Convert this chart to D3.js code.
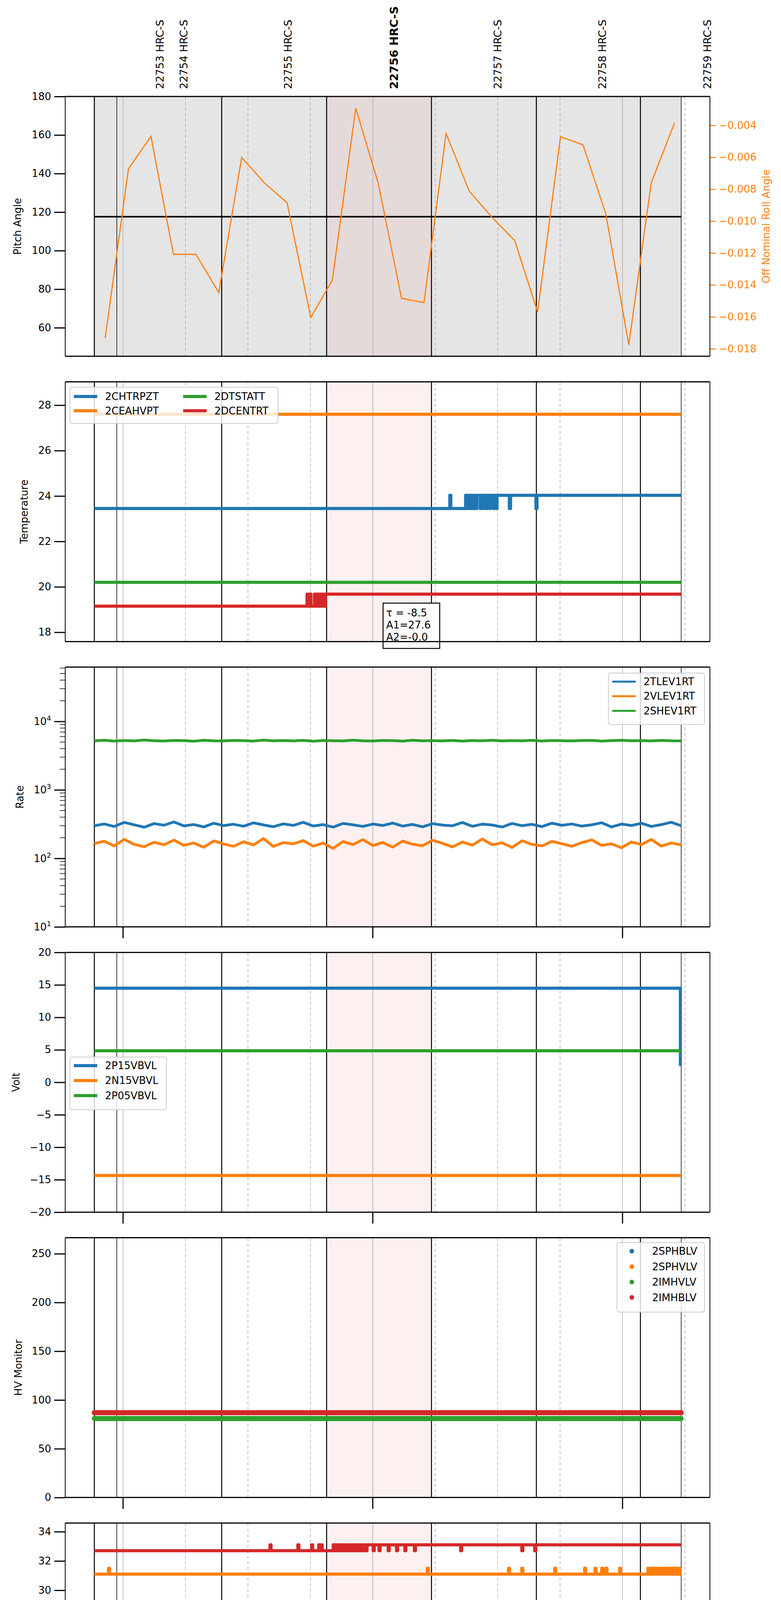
<!DOCTYPE html>
<meta charset="utf-8">
<style>
body { margin: 0; background: #fff; }
text { font-family: "DejaVu Sans", sans-serif; }
</style>
<svg width="2000" height="5400"></svg>
<script src="https://d3js.org/d3.v7.min.js"></script>
<script>

// time helper: "HH:MM.m" on 2020-11-02
function tm(s) {
  var p = s.split(":");
  return new Date(2020, 10, 2, +p[0], 0, 0, Math.round(+p[1] * 60000));
}

// ---- data ----
var obsBounds = ["10:53.1", "10:58.5", "11:23.7", "11:48.9", "12:14.1", "12:39.3", "13:04.3", "13:14.1"];
var obsLabels = ["22753 HRC-S", "22754 HRC-S", "22755 HRC-S", "22756 HRC-S", "22757 HRC-S", "22758 HRC-S", "22759 HRC-S"];
var obsLabelTimes = ["11:08.9", "11:14.6", "11:39.6", "12:05.1", "12:30.0", "12:55.2", "13:20.4"];
var currentObs = "22756 HRC-S";
var highlight = ["11:48.9", "12:14.1"];

var pitchTimes = ["10:53.1", "13:14.1"];
var pitchValues = [117.6, 117.6];

var rollTimes = ["10:55.7", "11:01.3", "11:06.7", "11:12.1", "11:17.5", "11:23.0", "11:28.5", "11:34.0", "11:39.4",
  "11:45.1", "11:50.3", "11:55.9", "12:01.3", "12:06.9", "12:12.3", "12:17.6", "12:23.2", "12:28.7", "12:34.1",
  "12:39.6", "12:45.1", "12:50.5", "12:56.0", "13:01.5", "13:06.9", "13:12.5"];
var rollValues = [-0.01734, -0.00672, -0.00469, -0.01208, -0.01208, -0.01448, -0.00601, -0.00762, -0.00885,
  -0.01604, -0.01369, -0.00292, -0.00762, -0.01484, -0.01511, -0.00451, -0.00813, -0.00978, -0.01122,
  -0.0157, -0.00471, -0.00522, -0.00956, -0.01776, -0.0076, -0.00385];

// step series: [time, value] change points; spikes: [time, value] short excursions
var dataStart = "10:53.1", dataEnd = "13:14.1";

var chtrpztSteps = [["10:53.1", 23.45], ["12:25.0", 24.03], ["12:32.8", 23.45], ["12:33.1", 24.03]];
var chtrpztSpikes = [["12:18.5", 24.03], ["12:22.3", 24.03], ["12:22.9", 24.03], ["12:23.6", 24.03], ["12:24.3", 24.03],
  ["12:25.8", 23.45], ["12:26.5", 23.45], ["12:27.3", 23.45], ["12:28.1", 23.45], ["12:29.0", 23.45], ["12:29.6", 23.45], ["12:39.2", 23.45]];
var ceahvptSteps = [["10:53.1", 27.6]];
var dtstattSteps = [["10:53.1", 20.2]];
var dcentrtSteps = [["10:53.1", 19.15], ["11:48.6", 19.68]];
var dcentrtSpikes = [["11:44.2", 19.68], ["11:44.9", 19.68], ["11:46.0", 19.68], ["11:46.7", 19.68], ["11:47.4", 19.68], ["11:48.0", 19.68]];

var rateStart = "10:53.1", rateEnd = "13:14.1";
var tlev1rt = [300, 318, 292, 335, 310, 285, 322, 305, 340, 298, 312, 288, 326, 301, 315, 295, 330, 308, 290, 319,
  303, 336, 297, 311, 286, 324, 309, 293, 317, 302, 328, 296, 313, 289, 321, 306, 299, 334, 294, 316,
  307, 287, 323, 300, 314, 291, 327, 304, 318, 296, 309, 331, 288, 317, 302, 325, 293, 311, 337, 299];
var vlev1rt = [165, 178, 152, 190, 160, 148, 172, 158, 185, 155, 168, 145, 180, 162, 150, 175, 157, 195, 149, 170,
  163, 182, 151, 167, 140, 176, 159, 188, 154, 171, 146, 179, 161, 153, 184, 166, 147, 173, 156, 192,
  158, 169, 144, 181, 160, 152, 177, 164, 150, 170, 186, 155, 163, 143, 174, 159, 189, 151, 168, 157];
var shev1rt = [5200, 5310, 5150, 5260, 5190, 5350, 5220, 5170, 5280, 5240, 5130, 5300, 5210, 5180, 5270, 5230, 5160, 5320, 5200, 5250,
  5190, 5290, 5140, 5260, 5220, 5180, 5330, 5210, 5170, 5280, 5240, 5150, 5300, 5200, 5230, 5190, 5270, 5160, 5250, 5210,
  5310, 5180, 5240, 5200, 5290, 5170, 5260, 5220, 5190, 5250, 5280, 5160, 5230, 5300, 5200, 5240, 5180, 5270, 5210, 5190];

var p15Steps = [["10:53.1", 14.5], ["13:13.9", 2.7]];
var n15Steps = [["10:53.1", -14.35]];
var p05Steps = [["10:53.1", 4.85]];

var sphblvSteps = [["10:53.1", 87]];
var sphvlvSteps = [["10:53.1", 87]];
var imhvlvSteps = [["10:53.1", 81]];
var imhblvSteps = [["10:53.1", 87]];

var spinatmSteps = [["10:53.1", 18.3]];
var spinatmSpikes = [["12:28.5", 18.9], ["13:13.0", 18.9]];
var sphvatmSteps = [["10:53.1", 31.1]];
var sphvatmSpikes = [["10:56.5", 31.5], ["12:13.1", 31.5], ["12:32.6", 31.5], ["12:35.8", 31.5], ["12:43.7", 31.5],
  ["12:50.9", 31.5], ["12:53.4", 31.5], ["12:55.0", 31.5], ["12:56.0", 31.5], ["12:59.3", 31.5],
  ["13:06.1", 31.5], ["13:06.6", 31.5], ["13:07.2", 31.5], ["13:08.0", 31.5], ["13:08.9", 31.5], ["13:09.5", 31.5],
  ["13:10.2", 31.5], ["13:10.9", 31.5], ["13:11.5", 31.5], ["13:12.2", 31.5], ["13:12.9", 31.5], ["13:13.5", 31.5]];
var iminatmSteps = [["10:53.1", 20.3]];
var iminatmSpikes = [["12:21.3", 19.6]];
var imhvatmSteps = [["10:53.1", 32.7], ["11:58.6", 33.1]];
var imhvatmSpikes = [["11:35.3", 33.1], ["11:42.0", 33.1], ["11:45.3", 33.1], ["11:47.0", 33.1], ["11:47.6", 33.1],
  ["11:50.5", 33.1], ["11:51.0", 33.1], ["11:51.5", 33.1], ["11:52.1", 33.1], ["11:52.7", 33.1], ["11:53.3", 33.1],
  ["11:53.9", 33.1], ["11:54.5", 33.1], ["11:55.1", 33.1], ["11:55.7", 33.1], ["11:56.3", 33.1], ["11:56.9", 33.1],
  ["11:57.5", 33.1], ["11:58.1", 33.1],
  ["12:00.1", 32.7], ["12:01.5", 32.7], ["12:03.7", 32.7], ["12:05.7", 32.7], ["12:07.7", 32.7], ["12:10.0", 32.7],
  ["12:21.1", 32.7], ["12:35.8", 32.7], ["12:38.9", 32.7]];

var fhtrmztSteps = [["10:53.1", 22.88]];
var fradpytSteps = [["10:53.1", 18.62], ["11:27.0", 18.12]];
var fradpytSpikes = [["11:18.0", 18.12], ["11:21.8", 18.12], ["11:25.5", 18.12], ["11:26.3", 18.62], ["11:31.9", 18.62]];
var fepratmSteps = [["10:53.1", 24.62]];
var fe00atmSteps = [["10:53.1", 22.95], ["10:57.4", 22.65], ["10:57.6", 22.95], ["11:15.0", 22.65]];
var fe00atmSpikes = [["10:53.6", 22.65], ["10:58.3", 22.65], ["10:59.4", 22.65], ["11:00.5", 22.65], ["11:01.6", 22.65],
  ["11:02.7", 22.65], ["11:03.8", 22.65], ["11:04.9", 22.65], ["11:06.0", 22.65], ["11:07.1", 22.65], ["11:08.2", 22.65],
  ["11:09.3", 22.65], ["11:10.2", 22.65], ["11:11.0", 22.65], ["11:11.8", 22.65], ["11:12.6", 22.65], ["11:13.4", 22.65],
  ["11:14.2", 22.65],
  ["11:17.1", 23.65], ["11:20.4", 22.3], ["11:25.8", 23.35], ["11:32.9", 23.0], ["11:42.3", 22.3], ["11:43.1", 23.0],
  ["11:49.2", 23.0], ["11:50.2", 22.3], ["11:55.4", 23.65], ["11:55.9", 23.35], ["12:00.6", 22.0], ["12:08.9", 23.65],
  ["12:13.3", 21.7], ["12:17.4", 23.35], ["12:18.9", 23.0], ["12:23.3", 21.7], ["12:46.9", 23.0], ["12:59.7", 22.3],
  ["13:03.4", 21.7], ["13:06.3", 21.7], ["13:13.7", 22.3]];

var tau = "τ = -8.5", a1 = "A1=27.6", a2 = "A2=-0.0";

// ---- helpers ----
function build(steps, spikes, end) {
  var pts = steps.map(function(d) { return [tm(d[0]), d[1]]; });
  function baseAt(t) {
    var v = pts[0][1];
    steps.forEach(function(s) { if (tm(s[0]) <= t) v = s[1]; });
    return v;
  }
  (spikes || []).forEach(function(s) {
    var t = tm(s[0]), b = baseAt(t);
    pts.push([t, s[1]]);
    pts.push([new Date(+t + 15000), b]);
  });
  pts.sort(function(a, b) { return a[0] - b[0]; });
  pts.push([tm(end || dataEnd), pts[pts.length - 1][1]]);
  return pts;
}
function even(vals) {
  var t0 = +tm(rateStart), t1 = +tm(rateEnd);
  return vals.map(function(v, i) { return [new Date(t0 + (t1 - t0) * i / (vals.length - 1)), v]; });
}

var C = ["#1f77b4", "#ff7f0e", "#2ca02c", "#d62728"];
var svg = d3.select("svg");
var L = 167, R = 1818, H = 665;
var x = d3.scaleTime().domain([tm("10:46.1"), tm("13:21.0")]).range([L, R]);

var panels = [
  { label: "Pitch Angle", lx: 45, domain: [45.2, 180], ticks: d3.range(60, 181, 20), series: [] },
  { label: "Temperature", lx: 62, domain: [17.59, 29.03], ticks: d3.range(18, 29, 2), lw: 8,
    legend: { x: 179, y: 991, w: 533, h: 93, cols: 2 },
    series: [
      { name: "2CHTRPZT", d: build(chtrpztSteps, chtrpztSpikes) },
      { name: "2CEAHVPT", d: build(ceahvptSteps) },
      { name: "2DTSTATT", d: build(dtstattSteps) },
      { name: "2DCENTRT", d: build(dcentrtSteps, dcentrtSpikes) }] },
  { label: "Rate", lx: 51, domain: [10, 62000], log: true, lw: 7, linear: true,
    legend: { x: 1558, y: 1723, w: 246, h: 132 },
    series: [
      { name: "2TLEV1RT", d: even(tlev1rt) },
      { name: "2VLEV1RT", d: even(vlev1rt) },
      { name: "2SHEV1RT", d: even(shev1rt) }] },
  { label: "Volt", lx: 41, domain: [-20, 20], ticks: d3.range(-20, 21, 5), lw: 8,
    legend: { x: 179, y: 2706, w: 247, h: 135 },
    series: [
      { name: "2P15VBVL", d: build(p15Steps) },
      { name: "2N15VBVL", d: build(n15Steps) },
      { name: "2P05VBVL", d: build(p05Steps) }] },
  { label: "HV Monitor", lx: 47, domain: [0, 266.4], ticks: d3.range(0, 251, 50), lw: 13, dots: true,
    legend: { x: 1580, y: 3181, w: 224, h: 178 },
    series: [
      { name: "2SPHBLV", d: build(sphblvSteps) },
      { name: "2SPHVLV", d: build(sphvlvSteps) },
      { name: "2IMHVLV", d: build(imhvlvSteps) },
      { name: "2IMHBLV", d: build(imhblvSteps) }] },
  { label: "Detector Temp", lx: 64, domain: [16.85, 34.59], ticks: d3.range(18, 35, 2), lw: 8,
    legend: { x: 1555, y: 4147, w: 249, h: 176 },
    series: [
      { name: "2SPINATM", d: build(spinatmSteps, spinatmSpikes) },
      { name: "2SPHVATM", d: build(sphvatmSteps, sphvatmSpikes) },
      { name: "2IMINATM", d: build(iminatmSteps, iminatmSpikes) },
      { name: "2IMHVATM", d: build(imhvatmSteps, imhvatmSpikes) }] },
  { label: "FEA Temp", lx: 62, domain: [16.65, 26.11], ticks: d3.range(18, 27, 2), lw: 8,
    legend: { x: 179, y: 4873, w: 253, h: 178 },
    series: [
      { name: "2FHTRMZT", d: build(fhtrmztSteps) },
      { name: "2FRADPYT", d: build(fradpytSteps, fradpytSpikes) },
      { name: "2FEPRATM", d: build(fepratmSteps) },
      { name: "2FE00ATM", d: build(fe00atmSteps, fe00atmSpikes) }] }
];

var hours = ["11:00", "12:00", "13:00"].map(tm);
var quarters = ["11:15", "11:30", "11:45", "12:15", "12:30", "12:45", "13:15"].map(tm);

panels.forEach(function(p, i) {
  var top = 247 + i * 730.4, bot = top + H;
  var y = (p.log ? d3.scaleLog() : d3.scaleLinear()).domain(p.domain).range([bot, top]);
  var g = svg.append("g");

  if (i === 0) {
    g.append("rect").attr("x", x(tm(obsBounds[0]))).attr("y", top)
      .attr("width", x(tm(obsBounds[obsBounds.length - 1])) - x(tm(obsBounds[0]))).attr("height", H)
      .attr("fill", "#e5e5e5");
  }
  g.append("rect").attr("x", x(tm(highlight[0]))).attr("y", top)
    .attr("width", x(tm(highlight[1])) - x(tm(highlight[0]))).attr("height", H)
    .attr("fill", i === 0 ? "#e5dada" : "#fdf0f0");

  // grid lines
  g.selectAll(".hr").data(hours).enter().append("line")
    .attr("x1", x).attr("x2", x).attr("y1", top).attr("y2", bot)
    .attr("stroke", "#aaa").attr("stroke-width", 1.5);
  g.selectAll(".qr").data(quarters).enter().append("line")
    .attr("x1", x).attr("x2", x).attr("y1", top).attr("y2", bot)
    .attr("stroke", "#aaa").attr("stroke-width", 1.5).attr("stroke-dasharray", "8,6");
  g.selectAll(".ob").data(obsBounds).enter().append("line")
    .attr("x1", function(d) { return x(tm(d)); }).attr("x2", function(d) { return x(tm(d)); })
    .attr("y1", top).attr("y2", bot)
    .attr("stroke", "#000").attr("stroke-width", function(d, j) { return (j === 1 || j === 7) ? 1.5 : 2.5; });

  var line = d3.line().x(function(d) { return x(d[0]); }).y(function(d) { return y(d[1]); })
    .curve(p.linear ? d3.curveLinear : d3.curveStepAfter);

  p.series.forEach(function(s, k) {
    g.append("path").datum(s.d).attr("d", line).attr("fill", "none")
      .attr("stroke", C[k]).attr("stroke-width", p.lw)
      .attr("stroke-linecap", p.dots ? "round" : "butt").attr("stroke-linejoin", "round");
  });

  if (i === 0) {
    var pitch = pitchTimes.map(function(t, k) { return [tm(t), pitchValues[k]]; });
    g.append("path").datum(pitch).attr("d", d3.line().x(function(d) { return x(d[0]); }).y(function(d) { return y(d[1]); }))
      .attr("stroke", "#000").attr("stroke-width", 4).attr("fill", "none");
    var y2 = d3.scaleLinear().domain([-0.01847, -0.00219]).range([bot, top]);
    var roll = rollTimes.map(function(t, k) { return [tm(t), rollValues[k]]; });
    g.append("path").datum(roll).attr("d", d3.line().x(function(d) { return x(d[0]); }).y(function(d) { return y2(d[1]); }))
      .attr("stroke", C[1]).attr("stroke-width", 3).attr("fill", "none");
    var ra = g.append("g").attr("transform", "translate(" + R + ",0)")
      .call(d3.axisRight(y2).tickValues(d3.range(-0.018, -0.0039, 0.002)).tickFormat(d3.format(".3f")).tickSize(15).tickPadding(8));
    ra.select(".domain").remove();
    ra.selectAll("line").attr("stroke", C[1]).attr("stroke-width", 2.5);
    ra.selectAll("text").attr("fill", C[1]).style("font-size", "26px");
    g.append("text").attr("transform", "translate(1962," + (top + H / 2) + ") rotate(-90)")
      .attr("text-anchor", "middle").attr("dy", "0.35em").attr("fill", C[1]).style("font-size", "26px")
      .text("Off Nominal Roll Angle");

    obsLabels.forEach(function(o, k) {
      var cur = o === currentObs;
      g.append("text").attr("transform", "translate(" + x(tm(obsLabelTimes[k])) + ",228) rotate(-90)")
        .attr("dy", "0.35em").style("font-size", cur ? "29px" : "27px").style("font-weight", cur ? "bold" : "normal")
        .text(o);
    });
  }

  if (i === 1) {
    var bx = 981, by = 1544;
    g.append("rect").attr("x", bx).attr("y", by).attr("width", 145).attr("height", 116)
      .attr("fill", "#fff").attr("stroke", "#000").attr("stroke-width", 2.5);
    [tau, a1, a2].forEach(function(t, k) {
      g.append("text").attr("x", bx + 8).attr("y", by + 25 + k * 31).attr("dy", "0.35em")
        .style("font-size", "26px").text(t);
    });
  }

  // y axis
  var ya;
  if (p.log) {
    ya = d3.axisLeft(y).tickValues([10, 100, 1000, 10000]).tickFormat("").tickSize(28);
  } else {
    ya = d3.axisLeft(y).tickValues(p.ticks).tickSize(28).tickPadding(8);
  }
  var yg = g.append("g").attr("transform", "translate(" + L + ",0)").call(ya);
  yg.select(".domain").remove();
  yg.selectAll("line").attr("stroke-width", 3);
  yg.selectAll("text").style("font-size", "26px");
  if (p.log) {
    var minors = [];
    [10, 100, 1000, 10000].forEach(function(b) { d3.range(2, 10).forEach(function(m) { if (b * m < 62000) minors.push(b * m); }); });
    yg.selectAll(".mn").data(minors).enter().append("line")
      .attr("x1", -14).attr("x2", 0).attr("y1", y).attr("y2", y).attr("stroke", "#000").attr("stroke-width", 1.5);
    [1, 2, 3, 4].forEach(function(e) {
      var t = yg.append("text").attr("x", -36).attr("y", y(Math.pow(10, e))).attr("dy", "0.35em")
        .attr("fill", "#000").attr("text-anchor", "end").style("font-size", "26px");
      t.append("tspan").text("10");
      t.append("tspan").attr("dy", "-0.6em").style("font-size", "18px").text(e);
    });
  }
  g.append("text").attr("transform", "translate(" + p.lx + "," + (top + H / 2) + ") rotate(-90)")
    .attr("text-anchor", "middle").attr("dy", "0.35em").style("font-size", "26px").text(p.label);

  // x ticks
  if (i >= 2) {
    g.selectAll(".ht").data(hours).enter().append("line")
      .attr("x1", x).attr("x2", x).attr("y1", bot).attr("y2", bot + 29)
      .attr("stroke", "#000").attr("stroke-width", 3);
  }
  if (i === 6) {
    g.selectAll(".qt").data(quarters).enter().append("line")
      .attr("x1", x).attr("x2", x).attr("y1", bot).attr("y2", bot + 7)
      .attr("stroke", "#000").attr("stroke-width", 1.5);
    g.selectAll(".ql").data(quarters).enter().append("text")
      .attr("x", x).attr("y", bot + 26).attr("text-anchor", "middle").style("font-size", "18px")
      .text(function(d) { return d3.timeFormat("%M")(d); });
    g.selectAll(".hl").data(hours).enter().append("text")
      .attr("x", x).attr("y", bot + 65).attr("text-anchor", "middle").style("font-size", "28px")
      .text(function(d) { return d3.timeFormat("%-Hh")(d); });
    g.append("text").attr("x", 1000).attr("y", bot + 100).attr("text-anchor", "middle")
      .style("font-size", "30px").text("2020-11-02 (307)");
  }

  // frame
  g.append("line").attr("x1", L).attr("x2", R).attr("y1", top).attr("y2", top).attr("stroke", "#000").attr("stroke-width", 3);
  g.append("line").attr("x1", L).attr("x2", R).attr("y1", bot).attr("y2", bot).attr("stroke", "#000").attr("stroke-width", 3);
  g.append("line").attr("x1", L).attr("x2", L).attr("y1", top).attr("y2", bot).attr("stroke", "#000").attr("stroke-width", 2);
  g.append("line").attr("x1", R).attr("x2", R).attr("y1", top).attr("y2", bot).attr("stroke", "#000").attr("stroke-width", 2);

  // legend
  if (p.legend) {
    var lg = p.legend;
    g.append("rect").attr("x", lg.x).attr("y", lg.y).attr("width", lg.w).attr("height", lg.h)
      .attr("rx", 6).attr("fill", "#fff").attr("fill-opacity", 0.8).attr("stroke", "#ccc").attr("stroke-width", 2);
    var n = p.series.length, cols = lg.cols || 1, rows = Math.ceil(n / cols);
    var rowH = (lg.h - 20) / rows;
    p.series.forEach(function(s, k) {
      var col = Math.floor(k / rows), row = k % rows;
      var hx = lg.x + 10 + col * 280, hy = lg.y + 22 + rowH * row + (rows === 2 ? 2 : 0);
      if (p.dots) {
        g.append("circle").attr("cx", hx + 28).attr("cy", hy).attr("r", 6).attr("fill", C[k]);
      } else {
        g.append("line").attr("x1", hx).attr("x2", hx + 60).attr("y1", hy).attr("y2", hy)
          .attr("stroke", C[k]).attr("stroke-width", p.log ? 5 : 8);
      }
      g.append("text").attr("x", hx + 80).attr("y", hy).attr("dy", "0.35em")
        .style("font-size", "26px").text(s.name);
    });
  }
});

</script>
